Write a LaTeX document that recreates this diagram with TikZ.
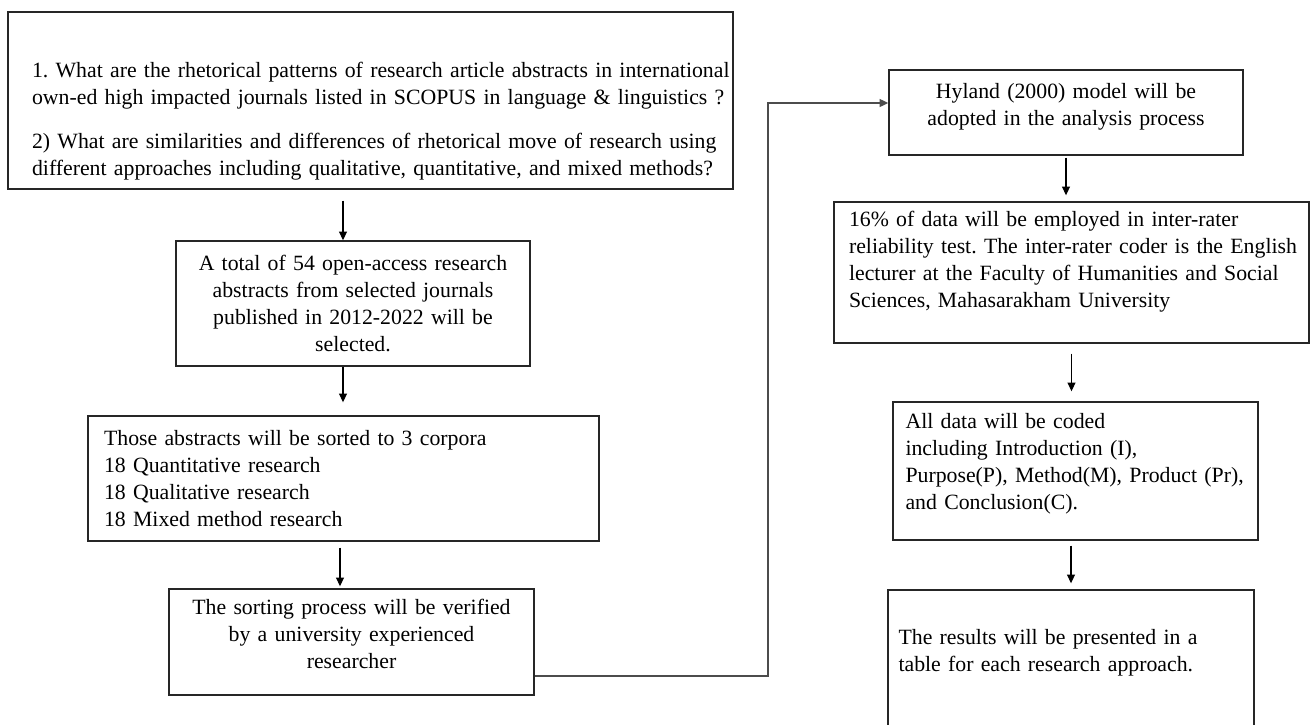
\documentclass[tikz,border=0pt]{standalone}
\usepackage{fontspec}
\setmainfont{Liberation Serif}
\usetikzlibrary{arrows.meta}
\frenchspacing
\hyphenpenalty=10000
\exhyphenpenalty=10000
\tikzset{every node/.style={font=\fontsize{12.4}{15.3}\selectfont}}
\tikzset{box/.style={draw=black!85, line width=0.8pt, inner ysep=0pt},
  arr/.style={-{Triangle[length=5pt,width=4.5pt]}, line width=0.7pt},
  link/.style={line width=0.9pt, draw=black!70}}

\begin{document}
\begin{tikzpicture}[x=0.02cm,y=-0.02cm]
\useasboundingbox (0,0) rectangle (1314,724);
% left column
\node[box, text width=13.54cm, inner xsep=0.48cm, align=left, minimum height=3.54cm,
  text height=37.5pt, text depth=63.2pt] (q) at (370.5,100.5)
  {\mbox{1. What are the rhetorical patterns of research article abstracts in international}\\
   \mbox{own-ed high impacted journals listed in SCOPUS in language \& linguistics ?}\\[9.7pt]
   \mbox{2) What are similarities and differences of rhetorical move of research using}\\
   \mbox{different approaches including qualitative, quantitative, and mixed methods?}};
\node[box, text width=6.6cm, inner xsep=0.24cm, align=center, minimum height=2.5cm]
  (a) at (353,303.5)
  {A total of 54 open-access research\\ abstracts from selected journals\\
   published in 2012-2022 will be\\ selected.};
\node[box, text width=9.58cm, inner xsep=0.32cm, align=left, minimum height=2.5cm]
  (c) at (343.5,478.5)
  {Those abstracts will be sorted to 3 corpora\\ 18 Quantitative research\\
   18 Qualitative research\\ 18 Mixed method research};
\node[box, text width=6.8cm, inner xsep=0.25cm, align=center, minimum height=2.12cm,
  text depth=40pt] (v) at (351.5,642)
  {The sorting process will be verified\\ by a university experienced\\ researcher};
% right column
\node[box, text width=6.6cm, inner xsep=0.24cm, align=center, minimum height=1.7cm,
  text depth=24.8pt] (hyland) at (1066,112.5)
  {Hyland (2000) model will be\\ adopted in the analysis process};
\node[box, text width=8.9cm, inner xsep=0.3cm, align=left, minimum height=2.82cm,
  text depth=60.6pt] (s16) at (1071.5,272.5)
  {16\% of data will be employed in inter-rater\\
   \mbox{reliability test. The inter-rater coder is the English}\\
   lecturer at the Faculty of Humanities and Social\\
   Sciences, Mahasarakham University};
\node[box, text width=6.8cm, inner xsep=0.25cm, align=left, minimum height=2.76cm,
  text depth=56.7pt] (code) at (1075.5,471)
  {All data will be coded\\ including Introduction (I),\\
   \mbox{Purpose(P), Method(M), Product (Pr),}\\ and Conclusion(C).};
\node[box, text width=6.9cm, inner xsep=0.21cm, align=left, minimum height=3cm,
  text depth=32.2pt] (res) at (1071,665)
  {The results will be presented in a\\ table for each research approach.};
% arrows
\coordinate (ax) at (343,0);
\coordinate (cx) at (340,0);
\draw[arr, shorten <=0.22cm] (q.south -| ax) -- (a.north -| ax);
\draw[arr, shorten >=0.26cm] (a.south -| ax) -- (c.north -| ax);
\draw[arr, shorten <=0.12cm, shorten >=0.04cm] (c.south -| cx) -- (v.north -| cx);
\draw[arr, shorten <=0.04cm, shorten >=0.12cm] (hyland.south) -- (hyland.south |- s16.north);
\draw[arr, shorten <=0.2cm, shorten >=0.2cm] (s16.south) -- (s16.south |- code.north);
\draw[arr, shorten <=0.1cm, shorten >=0.12cm] (code.south -| res.north) -- (res.north);
\coordinate (turn) at (768,103);
\draw[arr, link] ([yshift=0.4cm]v.south east) -| (turn) -- (turn -| hyland.west);
\end{tikzpicture}
\end{document}
